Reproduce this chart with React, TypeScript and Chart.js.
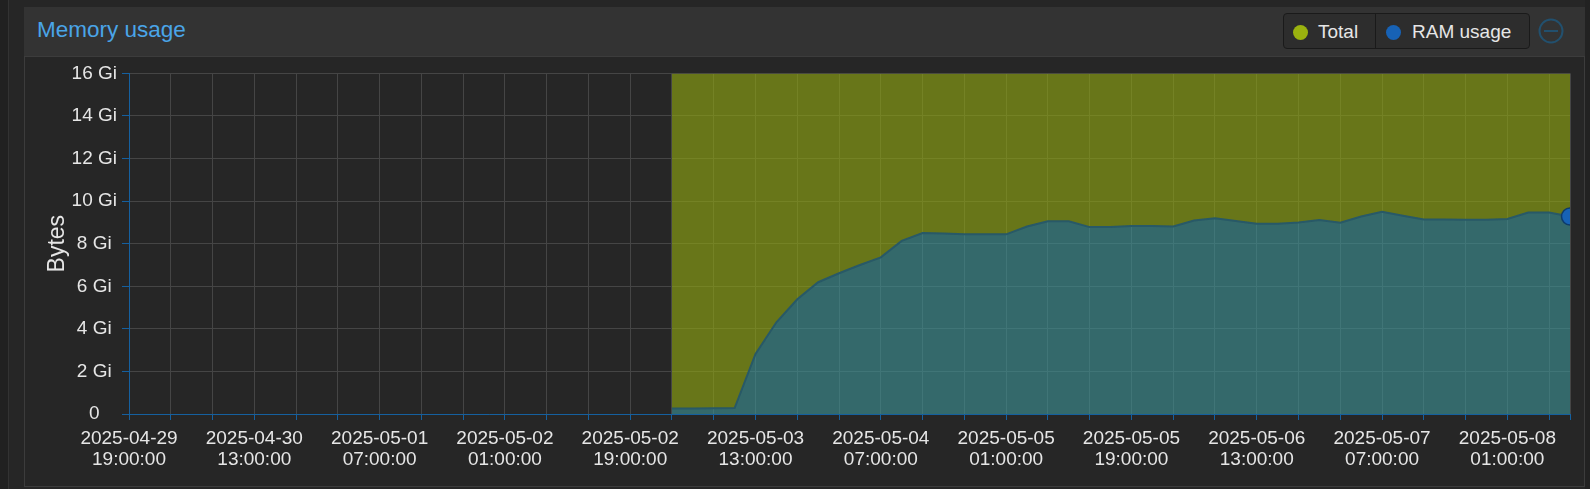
import React, { useEffect, useRef } from 'react';
import { Chart, registerables } from 'chart.js';

Chart.register(...registerables);

const FONT = '"Liberation Sans", Arial, Helvetica, sans-serif';
const GI = 1024 * 1024 * 1024;

// x-axis range and tick labels
const axisStart = '2025-04-29 19:00';
const axisEnd = '2025-05-08 10:00';
const gridStepHours = 6;
const xTickLabels = [
  '2025-04-29 19:00:00',
  '2025-04-30 13:00:00',
  '2025-05-01 07:00:00',
  '2025-05-02 01:00:00',
  '2025-05-02 19:00:00',
  '2025-05-03 13:00:00',
  '2025-05-04 07:00:00',
  '2025-05-05 01:00:00',
  '2025-05-05 19:00:00',
  '2025-05-06 13:00:00',
  '2025-05-07 07:00:00',
  '2025-05-08 01:00:00',
];

// y-axis (Gi)
const yMaxGi = 16;
const yStepGi = 2;

// samples
const sampleTimes = [
  '2025-05-03 01:00', '2025-05-03 04:00', '2025-05-03 07:00', '2025-05-03 10:00',
  '2025-05-03 13:00', '2025-05-03 16:00', '2025-05-03 19:00', '2025-05-03 22:00',
  '2025-05-04 01:00', '2025-05-04 04:00', '2025-05-04 07:00', '2025-05-04 10:00',
  '2025-05-04 13:00', '2025-05-04 16:00', '2025-05-04 19:00', '2025-05-04 22:00',
  '2025-05-05 01:00', '2025-05-05 04:00', '2025-05-05 07:00', '2025-05-05 10:00',
  '2025-05-05 13:00', '2025-05-05 16:00', '2025-05-05 19:00', '2025-05-05 22:00',
  '2025-05-06 01:00', '2025-05-06 04:00', '2025-05-06 07:00', '2025-05-06 10:00',
  '2025-05-06 13:00', '2025-05-06 16:00', '2025-05-06 19:00', '2025-05-06 22:00',
  '2025-05-07 01:00', '2025-05-07 04:00', '2025-05-07 07:00', '2025-05-07 10:00',
  '2025-05-07 13:00', '2025-05-07 16:00', '2025-05-07 19:00', '2025-05-07 22:00',
  '2025-05-08 01:00', '2025-05-08 04:00', '2025-05-08 07:00', '2025-05-08 10:00',
];

const ramUsageGi = [
  0.26, 0.26, 0.27, 0.28, 2.82, 4.31, 5.39, 6.19,
  6.61, 7.0, 7.36, 8.13, 8.5, 8.48, 8.44, 8.44,
  8.44, 8.81, 9.05, 9.05, 8.78, 8.78, 8.83, 8.83,
  8.81, 9.09, 9.2, 9.07, 8.94, 8.94, 9.0, 9.11,
  8.99, 9.28, 9.5, 9.31, 9.14, 9.14, 9.13, 9.13,
  9.16, 9.46, 9.46, 9.28,
];

const totalGi = [
  16, 16, 16, 16, 16, 16, 16, 16,
  16, 16, 16, 16, 16, 16, 16, 16,
  16, 16, 16, 16, 16, 16, 16, 16,
  16, 16, 16, 16, 16, 16, 16, 16,
  16, 16, 16, 16, 16, 16, 16, 16,
  16, 16, 16, 16,
];

const toMs = (s: string) => Date.parse(s.slice(0, 16).replace(' ', 'T') + ':00Z');
const hoursFromStart = (s: string) => (toMs(s) - toMs(axisStart)) / 3600000;

const AXIS_BLUE = '#15609f';
const GRID = '#454545';
const TEXT = '#e6e6e6';

export default function App() {
  const ref = useRef<HTMLCanvasElement>(null);

  useEffect(() => {
    const canvas = ref.current;
    if (!canvas) return;
    const xMax = hoursFromStart(axisEnd);
    const labelMap = new Map<number, string[]>();
    xTickLabels.forEach((l) => labelMap.set(hoursFromStart(l), l.split(' ')));

    const ramData = sampleTimes.map((t, i) => ({ x: hoursFromStart(t), y: ramUsageGi[i] * GI }));
    const totalData = sampleTimes.map((t, i) => ({ x: hoursFromStart(t), y: totalGi[i] * GI }));
    const lastIdx = ramData.length - 1;

    const chart = new Chart(canvas, {
      type: 'line',
      data: {
        datasets: [
          {
            label: 'Total',
            data: totalData,
            order: 2,
            borderColor: 'rgba(0,0,0,0)',
            borderWidth: 1,
            backgroundColor: 'rgba(148,171,16,0.6)',
            fill: '+1',
            pointRadius: 0,
            tension: 0,
          },
          {
            label: 'RAM usage',
            data: ramData,
            order: 1,
            borderColor: '#285967',
            borderWidth: 2,
            backgroundColor: 'rgba(61,150,153,0.6)',
            fill: 'origin',
            pointRadius: (c: any) => (c.dataIndex === lastIdx ? 8.5 : 0),
            pointBackgroundColor: '#1762b5',
            pointBorderColor: '#0e3b6b',
            pointBorderWidth: 1.5,
            tension: 0,
          },
        ],
      },
      options: {
        responsive: false,
        animation: false,
        events: [],
        layout: { padding: { left: 0, right: 13, top: 15, bottom: 0 } },
        plugins: { legend: { display: false }, tooltip: { enabled: false } },
        scales: {
          x: {
            type: 'linear',
            min: 0,
            max: xMax,
            afterBuildTicks: (scale: any) => {
              const t: { value: number }[] = [];
              for (let h = 0; h <= xMax; h += gridStepHours) t.push({ value: h });
              if (t[t.length - 1].value !== xMax) t.push({ value: xMax });
              scale.ticks = t;
            },
            afterFit: (scale: any) => {
              scale.height = 71;
            },
            ticks: {
              autoSkip: false,
              maxRotation: 0,
              minRotation: 0,
              padding: 8,
              color: TEXT,
              font: { family: FONT, size: 19, lineHeight: 1.1 },
              callback: (v: any) => labelMap.get(Number(v)) ?? '',
            },
            grid: { color: GRID, lineWidth: 1, tickLength: 6, tickColor: AXIS_BLUE },
            border: { color: AXIS_BLUE, width: 1 },
          },
          y: {
            min: 0,
            max: yMaxGi * GI,
            afterFit: (scale: any) => {
              scale.width = 104;
            },
            ticks: {
              stepSize: yStepGi * GI,
              padding: 5,
              crossAlign: 'center',
              color: TEXT,
              font: { family: FONT, size: 19 },
              callback: (v: any) => (Number(v) === 0 ? '0' : `${Math.round(Number(v) / GI)} Gi`),
            },
            grid: { color: GRID, lineWidth: 1, tickLength: 7, tickColor: AXIS_BLUE },
            border: { color: AXIS_BLUE, width: 1 },
            title: {
              display: true,
              text: 'Bytes',
              color: TEXT,
              font: { family: FONT, size: 23, lineHeight: 1.2 },
              padding: { top: 19, bottom: 0 },
            },
          },
        },
      } as any,
    });
    return () => chart.destroy();
  }, []);

  const abs = (s: React.CSSProperties): React.CSSProperties => ({ position: 'absolute', ...s });

  return (
    <div style={{ position: 'fixed', inset: 0, background: '#262626', overflow: 'hidden', fontFamily: FONT }}>
      <div style={abs({ left: 0, top: 0, width: 8, height: '100%', background: '#212121' })} />
      <div style={abs({ left: 8, top: 0, width: 1, height: '100%', background: '#333' })} />
      <div style={abs({ left: 1585, top: 0, width: 10, height: '100%', background: '#222' })} />
      {/* header */}
      <div style={abs({ left: 24, top: 7, width: 1561, height: 49, background: '#333' })} />
      <div style={abs({ left: 37, top: 19, fontSize: 22.5, lineHeight: 1, color: '#4aa5e8', whiteSpace: 'nowrap' })}>
        Memory usage
      </div>
      {/* legend */}
      <div
        style={abs({
          left: 1283,
          top: 13,
          width: 247,
          height: 36,
          background: '#2d2d2d',
          border: '1px solid #1a1a1a',
          borderRadius: 4,
          boxSizing: 'border-box',
        })}
      />
      <div style={abs({ left: 1375, top: 14, width: 1, height: 34, background: '#1a1a1a' })} />
      <div style={abs({ left: 1293, top: 25, width: 15, height: 15, borderRadius: '50%', background: '#9ab20f' })} />
      <div style={abs({ left: 1318, top: 22, fontSize: 19, lineHeight: 1, color: TEXT, whiteSpace: 'nowrap' })}>Total</div>
      <div style={abs({ left: 1386, top: 25, width: 15, height: 15, borderRadius: '50%', background: '#1762b5' })} />
      <div style={abs({ left: 1412, top: 22, fontSize: 19, lineHeight: 1, color: TEXT, whiteSpace: 'nowrap' })}>
        RAM usage
      </div>
      <svg style={abs({ left: 1538, top: 18, width: 26, height: 26 })} viewBox="0 0 26 26">
        <circle cx="13" cy="13" r="11.5" fill="none" stroke="#22506e" strokeWidth="2" />
        <line x1="6" y1="13" x2="20" y2="13" stroke="#22506e" strokeWidth="2" />
      </svg>
      {/* body */}
      <div
        style={abs({
          left: 24,
          top: 56,
          width: 1561,
          height: 431,
          background: '#262626',
          border: '1px solid #3c3c3c',
          boxSizing: 'border-box',
        })}
      />
      <canvas ref={ref} width={1558} height={428} style={abs({ left: 25, top: 57, width: 1558, height: 428 })} />
    </div>
  );
}
